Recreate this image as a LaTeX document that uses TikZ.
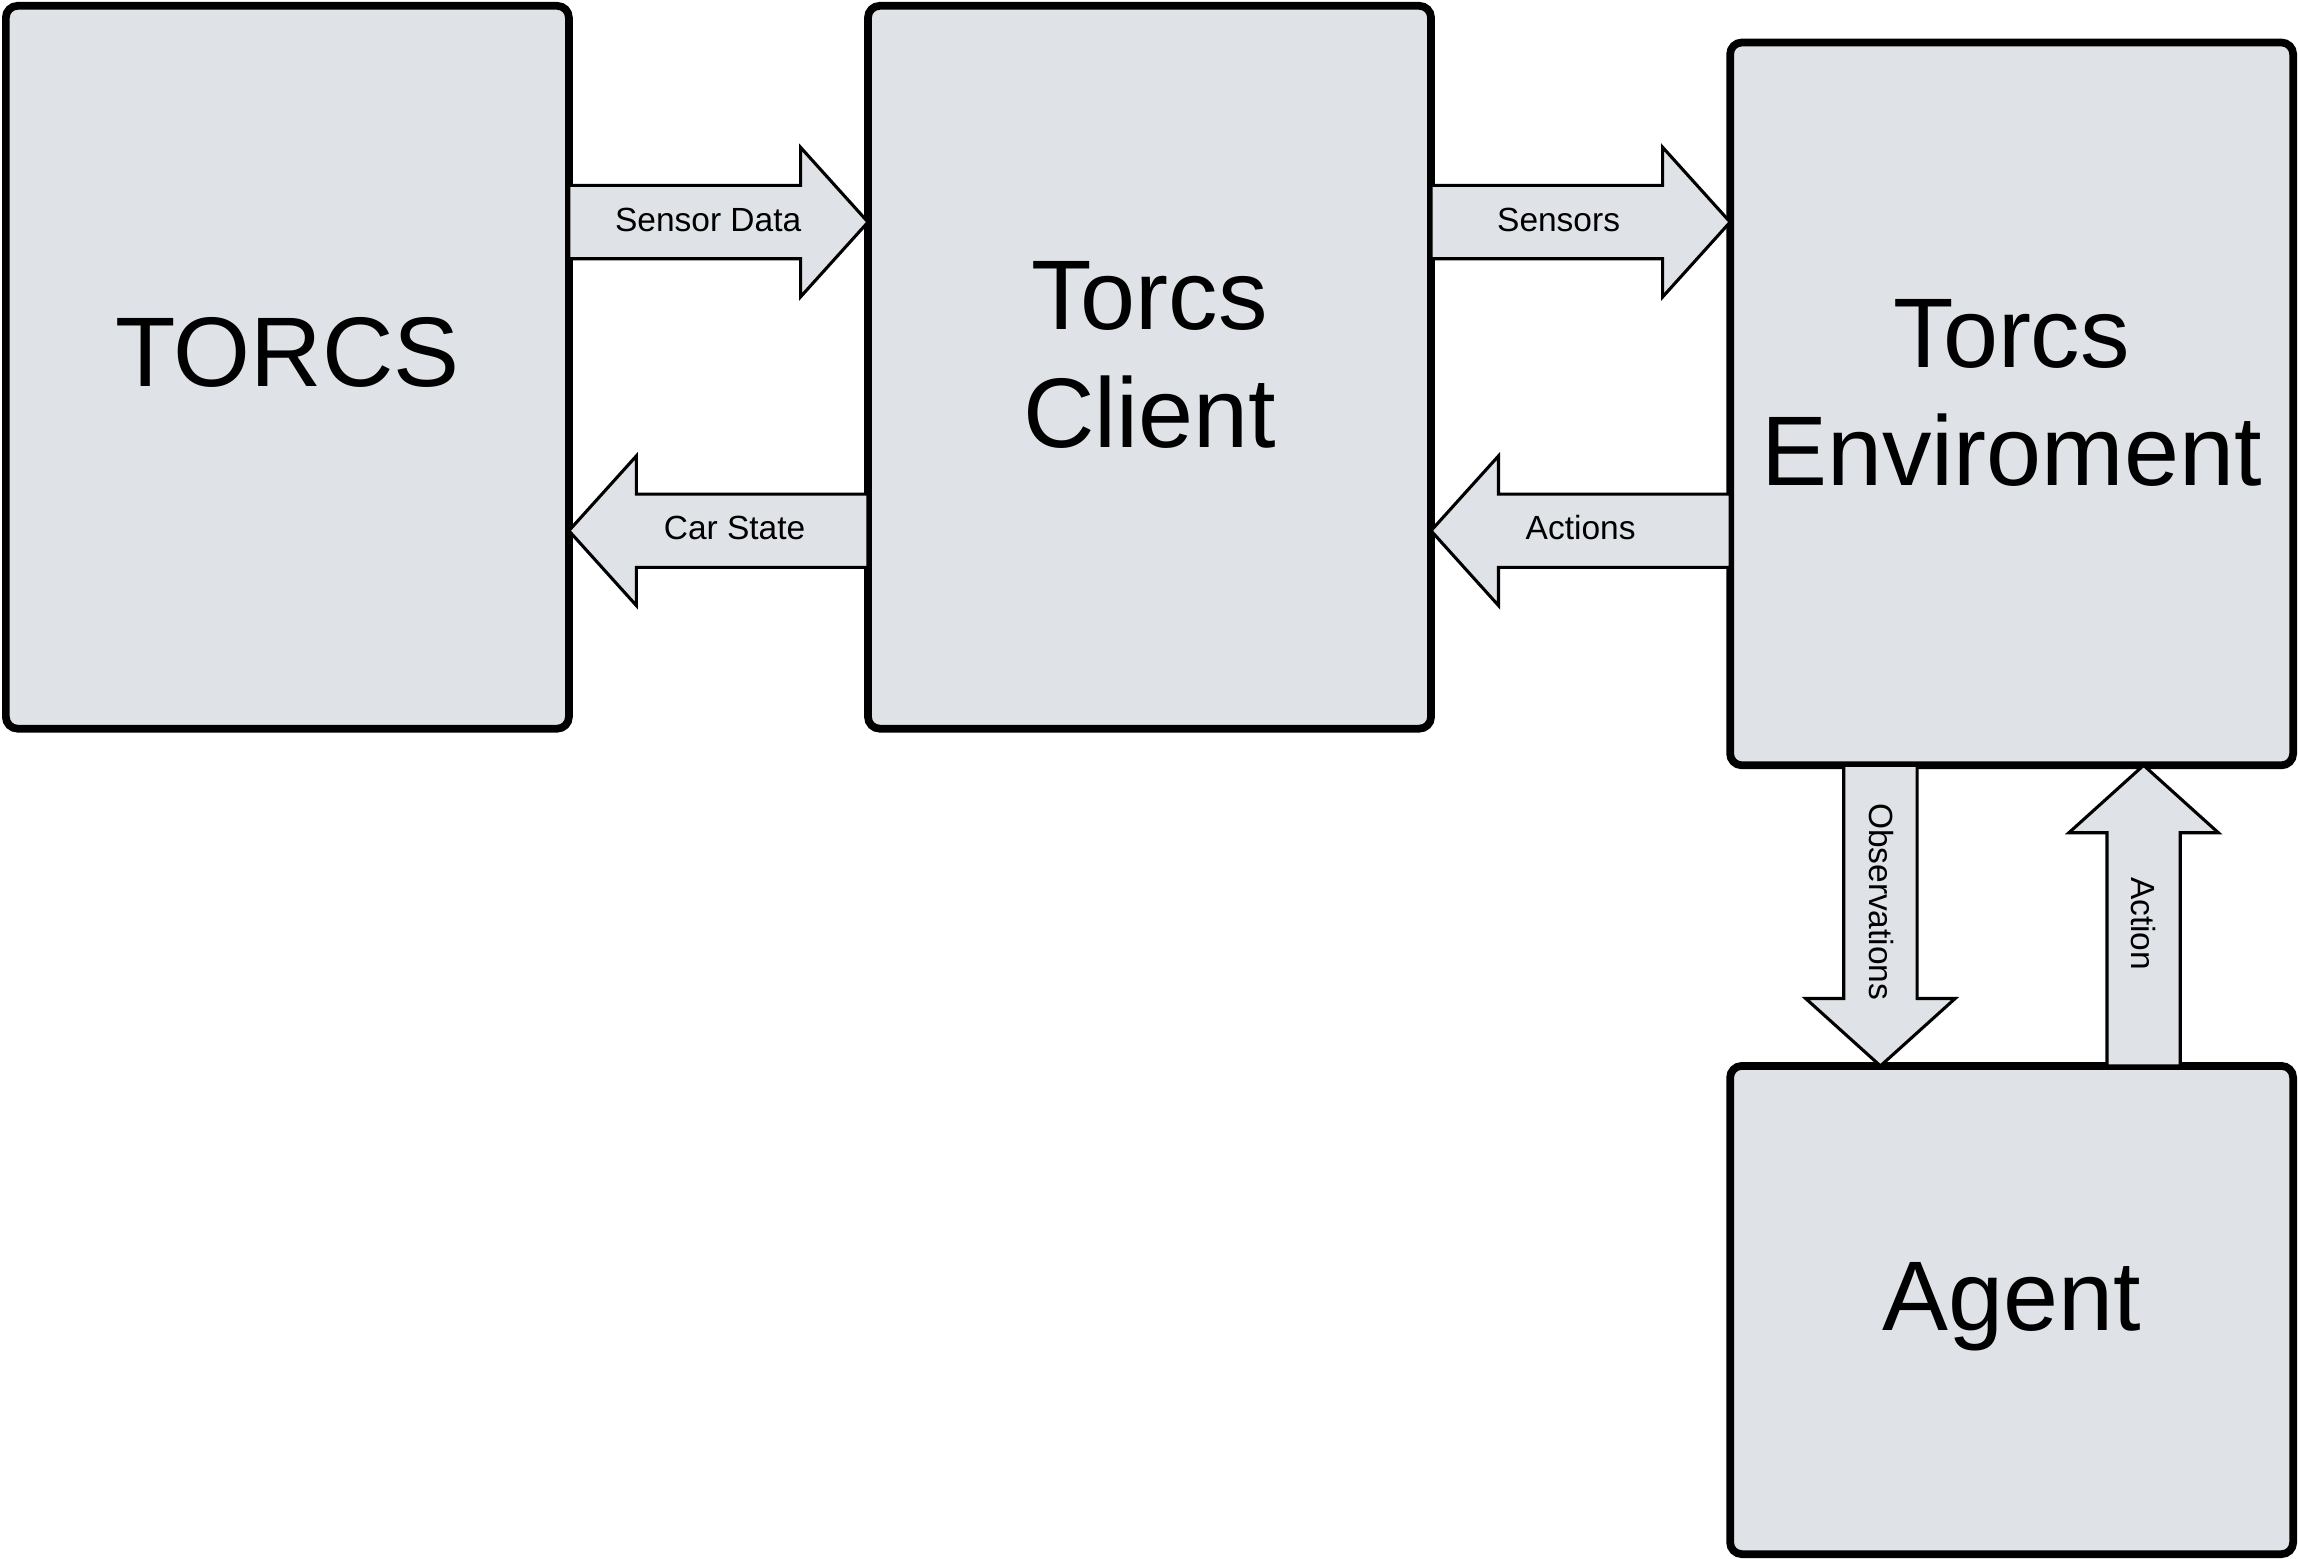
\documentclass[tikz,border=0pt]{standalone}
\usepackage{fontspec}
\setmainfont{Liberation Sans}
\usetikzlibrary{positioning}

\definecolor{boxgray}{HTML}{DFE2E6}

\tikzset{
  block/.style={draw, line width=1.5pt, rounded corners=0.08cm, fill=boxgray,
    minimum width=3.84cm},
  blocktext/.style={align=center, font=\fontsize{19.2}{23}\selectfont},
  flow/.style={draw, line width=0.6pt, fill=boxgray},
  flowlabel/.style={font=\fontsize{6.5}{8}\selectfont}
}

% horizontal arrow: tail x, tip x, centre y
\newcommand{\harrow}[3]{%
  \pgfmathsetmacro{\hb}{#2-0.46*sign(#2-#1)}%
  \draw[flow] (#1,#3-0.25) -- (\hb,#3-0.25) -- (\hb,#3-0.51) -- (#2,#3)
    -- (\hb,#3+0.51) -- (\hb,#3+0.25) -- (#1,#3+0.25) -- cycle;}
% vertical arrow: centre x, tail y, tip y
\newcommand{\varrow}[3]{%
  \pgfmathsetmacro{\vb}{#3-0.46*sign(#3-#2)}%
  \draw[flow] (#1-0.25,#2) -- (#1-0.25,\vb) -- (#1-0.51,\vb) -- (#1,#3)
    -- (#1+0.51,\vb) -- (#1+0.25,\vb) -- (#1+0.25,#2) -- cycle;}

\begin{document}
\begin{tikzpicture}
\useasboundingbox (0,0) rectangle (15.68,10.63);

%the blocks
\node[block, minimum height=4.93cm] (torcs) at (1.96,8.125) {};
\node[blocktext] (torcstext) at ([yshift=1mm]torcs) {TORCS};
\node[block, minimum height=4.93cm] (client) at (7.84,8.125) {};
\node[blocktext] (clienttext) at ([yshift=0.85mm]client) {Torcs\\Client};
\node[block, minimum height=4.93cm] (env) at (13.72,7.875) {};
\node[blocktext] (envtext) at ([yshift=0.75mm]env) {Torcs\\Enviroment};
\node[block, minimum height=3.33cm] (agent) at (13.72,1.695) {};
\node[blocktext] (agenttext) at ([yshift=0.2mm]agent) {Agent};

%the arrows
\harrow{3.88}{5.92}{9.115}
\node[flowlabel] (sensdata) at (4.83,9.13) {Sensor Data};
\harrow{5.92}{3.88}{7.01}
\node[flowlabel] (carstate) at (5.01,7.03) {Car State};
\harrow{9.76}{11.80}{9.115}
\node[flowlabel] (sensors) at (10.63,9.13) {Sensors};
\harrow{11.80}{9.76}{7.01}
\node[flowlabel] (actions) at (10.78,7.03) {Actions};

\varrow{12.825}{5.41}{3.36}
\node[flowlabel, rotate=-90] (obs) at (12.83,4.48) {Observations};
\varrow{14.62}{3.36}{5.41}
\node[flowlabel, rotate=-90] (act) at (14.62,4.33) {Action};
\end{tikzpicture}
\end{document}
